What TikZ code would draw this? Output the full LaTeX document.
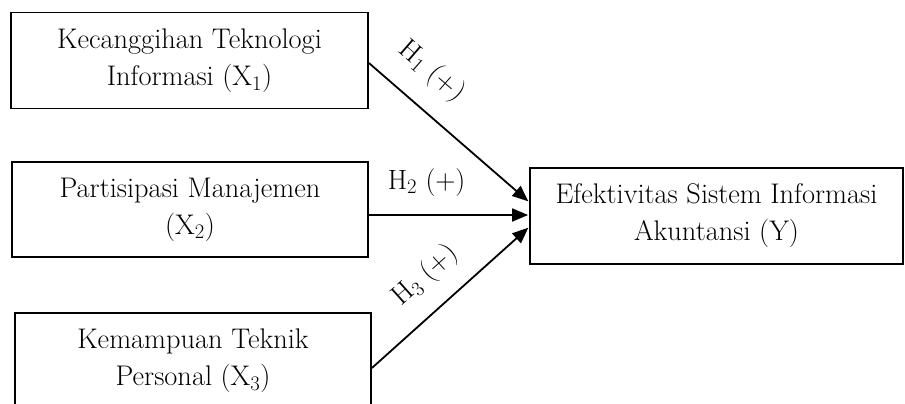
\documentclass[tikz,border=0pt]{standalone}
\usepackage{tikz}
\usetikzlibrary{arrows.meta}

\begin{document}
\begin{tikzpicture}[x=1bp,y=-1bp,
      var/.style={draw,line width=1.8bp,align=center,inner sep=0pt,
        font=\fontsize{28.5}{37}\selectfont},
      hyp/.style={-{Triangle[length=16bp,width=13bp]},line width=1.8bp,shorten >=1bp},
      lbl/.style={font=\fontsize{28}{30}\selectfont,sloped,inner sep=0pt}]
      \useasboundingbox (0,0) rectangle (905,403);

      % variabel
      \node[var,minimum width=357bp,minimum height=96bp] (x1) at (189.5,60.5)
      {Kecanggihan Teknologi\\Informasi (X$_1$)};
      \node[var,minimum width=356bp,minimum height=95bp] (x2) at (190,209.5)
      {Partisipasi Manajemen\\(X$_2$)};
      \node[var,minimum width=356bp,minimum height=95bp] (x3) at (193,360.5)
      {Kemampuan Teknik\\Personal (X$_3$)};
      \node[var,minimum width=373bp,minimum height=96bp] (ysi) at (716.5,216)
      {Efektivitas Sistem Informasi\\Akuntansi (Y)};

      % hipotesis
      \draw[hyp] ([yshift=-2.5bp]x1.east) -- node[lbl,above=20bp,pos=0.25] {H$_1$ (+)}
      ([yshift=14bp]ysi.west);
      \draw[hyp] ([yshift=-5.5bp]x2.east) -- node[lbl,above=18bp,pos=0.36] {H$_2$ (+)}
      ([yshift=1bp]ysi.west);
      \draw[hyp] ([yshift=-7.5bp]x3.east) -- node[lbl,above=18bp,pos=0.48] {H$_3$ (+)}
      ([yshift=-11bp]ysi.west);
\end{tikzpicture}
\end{document}
